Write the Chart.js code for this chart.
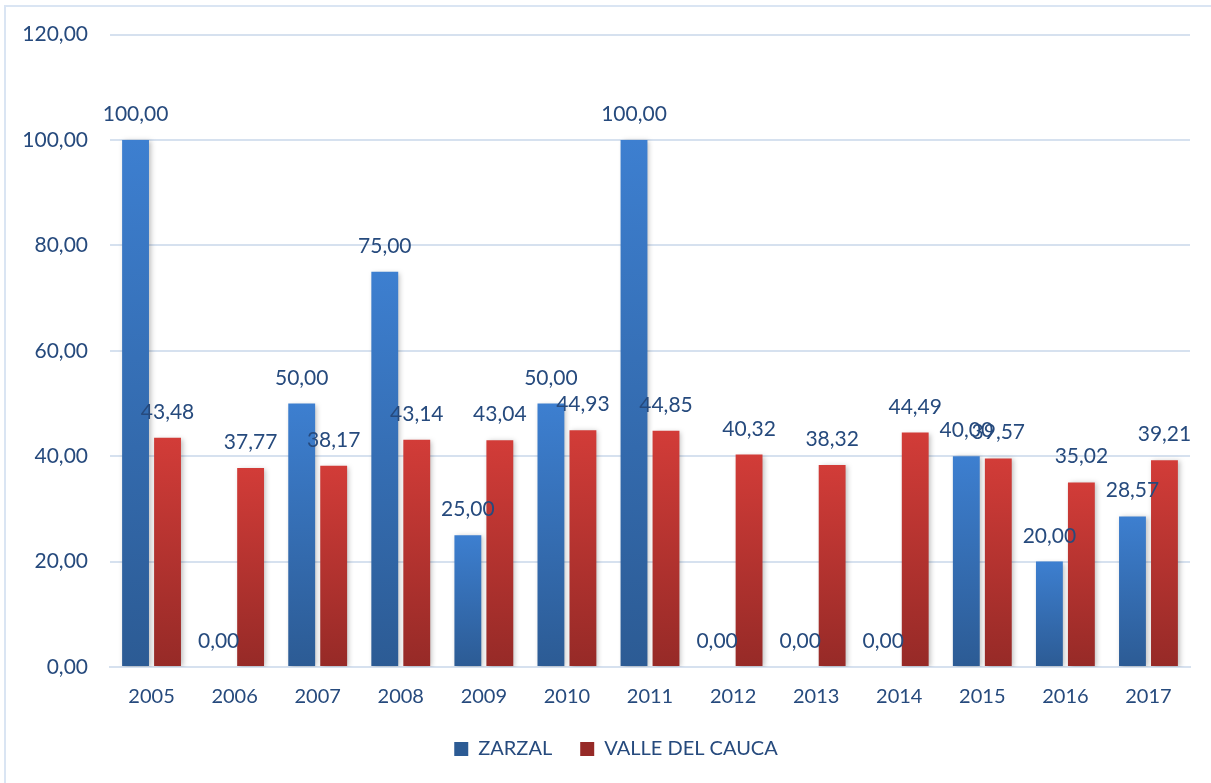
<!DOCTYPE html>
<html>
<head>
<meta charset="utf-8">
<script src="https://cdn.jsdelivr.net/npm/chart.js@4.4.1/dist/chart.umd.min.js"></script>
<style>
  html, body { margin: 0; padding: 0; background: #fff; }
  #wrap { position: relative; width: 1211px; height: 783px; }
  #frame { position: absolute; left: 4px; top: 5px; width: 1220px; height: 800px;
           border: 2px solid #dae5f3; box-sizing: border-box; pointer-events: none; }
</style>
</head>
<body>
<div id="wrap">
  <canvas id="chart" width="1211" height="783"></canvas>
  <div id="frame"></div>
</div>
<script>
// Years on the x axis
var years = ['2005', '2006', '2007', '2008', '2009', '2010', '2011', '2012', '2013', '2014', '2015', '2016', '2017'];

// Series values
var zarzal = [100, 0, 50, 75, 25, 50, 100, 0, 0, 0, 40, 20, 28.57];
var valle = [43.48, 37.77, 38.17, 43.14, 43.04, 44.93, 44.85, 40.32, 38.32, 44.49, 39.57, 35.02, 39.21];

// Y axis ticks
var yTicks = [0, 20, 40, 60, 80, 100, 120];

var textColor = '#264a7d';
var fontName = 'Lato, "Open Sans", sans-serif';

function fmt(v) {
	return v.toFixed(2).replace('.', ',');
}

// Gradient per bar, light on top, dark at the base
function barGradient(top, bottom) {
	return function(c) {
		var chart = c.chart;
		if (!chart.chartArea || c.dataIndex === undefined) return top;
		var v = c.dataset.data[c.dataIndex];
		var y = chart.scales.y;
		var y0 = y.getPixelForValue(v), y1 = y.getPixelForValue(0);
		if (y1 - y0 < 1) return top;
		var g = chart.ctx.createLinearGradient(0, y0, 0, y1);
		g.addColorStop(0, top);
		g.addColorStop(1, bottom);
		return g;
	};
}

// Soft shadow behind bars
var shadowPlugin = {
	id: 'barShadow',
	beforeDatasetsDraw: function(chart) {
		var ctx = chart.ctx;
		ctx.save();
		ctx.shadowColor = 'rgba(0,0,0,0.25)';
		ctx.shadowBlur = 5;
		ctx.shadowOffsetX = 2;
		ctx.shadowOffsetY = 1;
	},
	afterDatasetsDraw: function(chart) {
		chart.ctx.restore();
	}
};

// Legend sits a bit right of the plot centre
var legendShift = {
	id: 'legendShift',
	afterLayout: function(chart) {
		if (chart.legend) {
			chart.legend.left += 21;
			chart.legend.right += 21;
		}
	}
};

// Value labels above each bar
var labelPlugin = {
	id: 'valueLabels',
	afterDraw: function(chart) {
		var ctx = chart.ctx;
		ctx.save();
		ctx.font = '21px ' + fontName;
		ctx.fillStyle = textColor;
		ctx.textAlign = 'center';
		ctx.textBaseline = 'alphabetic';
		chart.data.datasets.forEach(function(ds, i) {
			var meta = chart.getDatasetMeta(i);
			meta.data.forEach(function(bar, j) {
				ctx.fillText(fmt(ds.data[j]), bar.x, bar.y - 19);
			});
		});
		ctx.restore();
	}
};

var ctx = document.getElementById('chart').getContext('2d');
new Chart(ctx, {
	type: 'bar',
	data: {
		labels: years,
		datasets: [
			{ label: 'ZARZAL', data: zarzal, backgroundColor: barGradient('#3d7fd0', '#2c5b94') },
			{ label: 'VALLE DEL CAUCA', data: valle, backgroundColor: barGradient('#d23c38', '#962a27') }
		]
	},
	options: {
		responsive: false,
		animation: false,
		layout: { padding: { left: 0, right: 21, top: 25, bottom: 14 } },
		datasets: { bar: { categoryPercentage: 0.77, barPercentage: 0.84 } },
		plugins: {
			tooltip: { enabled: false },
			legend: {
				position: 'bottom',
				labels: {
					color: textColor,
					font: { family: fontName, size: 20 },
					boxWidth: 14,
					boxHeight: 14,
					padding: 28
				}
			}
		},
		scales: {
			x: {
				grid: { display: false },
				border: { color: '#d6e1ef', width: 2 },
				afterFit: function(s) { s.height = s.height - 8; },
				ticks: { color: textColor, font: { family: fontName, size: 20 }, padding: 10 }
			},
			y: {
				min: 0,
				max: 120,
				afterFit: function(s) { s.width = 110; },
				afterBuildTicks: function(s) { s.ticks = yTicks.map(function(v) { return { value: v }; }); },
				grid: { color: '#d6e1ef', lineWidth: 2, drawTicks: false },
				border: { display: false },
				ticks: {
					color: textColor,
					font: { family: fontName, size: 21 },
					padding: 22,
					callback: function(v) { return fmt(v); }
				}
			}
		}
	},
	plugins: [shadowPlugin, legendShift, labelPlugin]
});
</script>
</body>
</html>
